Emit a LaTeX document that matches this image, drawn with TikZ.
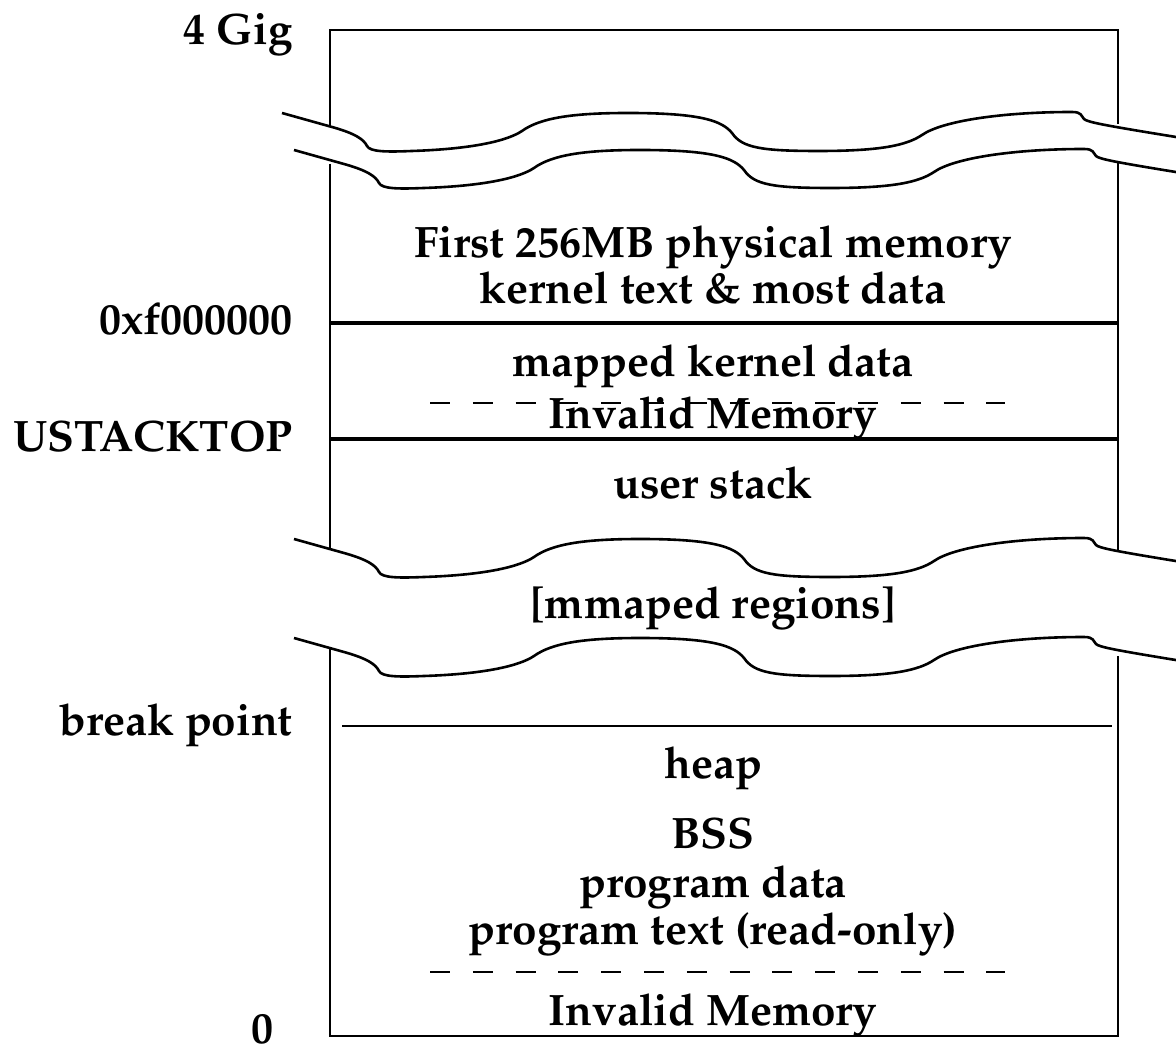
\documentclass[tikz,border=0pt]{standalone}
\usepackage[T1]{fontenc}
\usepackage{mathpazo}
\tikzset{
	lbl/.style={font=\bfseries\fontsize{22}{26}\selectfont, inner sep=0pt, anchor=base},
	side/.style={lbl, anchor=base east},
	wall/.style={line width=1pt},
	bound/.style={line width=1.6pt},
	wavy/.style={line width=1.3pt},
	gap/.style={line width=1pt, dash pattern=on 10pt off 11.4pt}
}
% one torn edge of the address space, starting at #1,#2
\def\memwave(#1,#2){%
	\begin{scope}[shift={(#1,#2)}]
		\draw[wavy] (0,0) -- (50,14)
			.. controls (75,21) and (82,27) .. (85,33)
			.. controls (88,39) and (105,39) .. (130,38)
			.. controls (190,36) and (225,28) .. (240,18)
			.. controls (258,5) and (290,0) .. (346,0)
			.. controls (420,0) and (440,8) .. (450,20)
			.. controls (460,35) and (480,38) .. (537,38)
			.. controls (600,38) and (625,32) .. (640,22)
			.. controls (660,8) and (720,-1) .. (790,-1)
			.. controls (800,-1) and (799,3) .. (802,6)
			.. controls (805,9) and (820,12) .. (894,24);
	\end{scope}}

\begin{document}
\begin{tikzpicture}[x=0.5pt, y=-0.5pt]
			%%%%% START %%%%%
			\useasboundingbox (0,0) rectangle (1176,1052);
			
			% outer box, broken at the two tears
			\draw[wall] (330,127) -- (330,30) -- (1118,30) -- (1118,124);
			\draw[wall] (330,164) -- (330,548);
			\draw[wall] (1118,162) -- (1118,550);
			\draw[wall] (330,648) -- (330,1036) -- (1118,1036) -- (1118,656);
			
			\memwave(282,113);
			\memwave(294,150);
			\memwave(294,539);
			\memwave(294,638);
			
			% boundaries
			\draw[bound] (330,323) -- (1118,323);
			\draw[bound] (330,439) -- (1118,439);
			\draw[line width=0.8pt] (342,726) -- (1112,726);
			\draw[gap] (430,403) -- (1005,403);
			\draw[gap] (430,972) -- (1005,972);
			
			% addresses
			\node[side] (gig) at (293,45) {4 Gig};
			\node[side] (kbase) at (293,335) {0xf000000};
			\node[side] (ustack) at (293,452) {USTACKTOP};
			\node[side] (brk) at (293,735) {break point};
			\node[side] (zero) at (274,1043) {0};
			
			% regions
			\node[lbl] (phys) at (713,258) {First 256MB physical memory};
			\node[lbl] (ktext) at (713,304) {kernel text \& most data};
			\node[lbl] (kdata) at (713,377) {mapped kernel data};
			\node[lbl] (inv1) at (713,429) {Invalid Memory};
			\node[lbl] (stk) at (713,499) {user stack};
			\node[lbl] (mmap) at (713,618) {[mmaped regions]};
			\node[lbl] (heap) at (713,778) {heap};
			\node[lbl] (bss) at (713,848) {BSS};
			\node[lbl] (pdata) at (713,897) {program data};
			\node[lbl] (ptext) at (713,944) {program text (read-only)};
			\node[lbl] (inv0) at (713,1025) {Invalid Memory};
			%%%%% END %%%%%
\end{tikzpicture}
\end{document}
